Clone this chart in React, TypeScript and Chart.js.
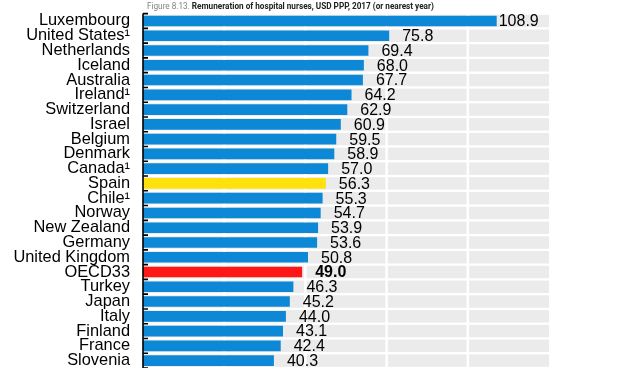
import React, { useEffect, useRef } from "react";
import { Chart, registerables } from "chart.js";

Chart.register(...registerables);

const categories = [
  "Luxembourg", "United States\u00B9", "Netherlands", "Iceland", "Australia",
  "Ireland\u00B9", "Switzerland", "Israel", "Belgium", "Denmark", "Canada\u00B9",
  "Spain", "Chile\u00B9", "Norway", "New Zealand", "Germany", "United Kingdom",
  "OECD33", "Turkey", "Japan", "Italy", "Finland", "France", "Slovenia",
];
const values = [
  108.9, 75.8, 69.4, 68.0, 67.7, 64.2, 62.9, 60.9, 59.5, 58.9, 57.0,
  56.3, 55.3, 54.7, 53.9, 53.6, 50.8, 49.0, 46.3, 45.2, 44.0, 43.1, 42.4, 40.3,
];
const gridTicks = [25, 50, 75, 100];
const titlePrefix = "Figure 8.13. ";
const titleMain = "Remuneration of hospital nurses, USD PPP, 2017 (or nearest year)";

const BLUE = "#0D88D6";
const YELLOW = "#FFE10C";
const RED = "#FF1616";
const barColors = categories.map((c) =>
  c === "Spain" ? YELLOW : c === "OECD33" ? RED : BLUE
);

const decorPlugin = {
  id: "decor",
  beforeDatasetsDraw(chart: any) {
    const { ctx, chartArea, scales } = chart;
    const y = scales.y;
    const x = scales.x;
    const n = categories.length;
    const rowH = (chartArea.bottom - chartArea.top) / n;
    ctx.save();
    ctx.fillStyle = "#EBEBEB";
    for (let i = 0; i < n; i++) {
      const cy = y.getPixelForValue(i);
      const h = rowH - 2.3;
      ctx.fillRect(chartArea.left, cy - h / 2, chartArea.right - chartArea.left, h);
    }
    ctx.fillStyle = "#FFFFFF";
    for (const t of gridTicks) {
      const px = x.getPixelForValue(t);
      ctx.fillRect(px - 1.25, chartArea.top, 2.5, chartArea.bottom - chartArea.top);
    }
    ctx.restore();
  },
  afterDatasetsDraw(chart: any) {
    const { ctx, chartArea, scales } = chart;
    const y = scales.y;
    const x = scales.x;
    const n = categories.length;
    const rowH = (chartArea.bottom - chartArea.top) / n;
    ctx.save();
    ctx.strokeStyle = "#000";
    ctx.lineWidth = 1.6;
    ctx.beginPath();
    ctx.moveTo(chartArea.left, chartArea.top);
    ctx.lineTo(chartArea.left, chartArea.bottom);
    for (let i = 0; i <= n; i++) {
      const yy = chartArea.top + i * rowH;
      ctx.moveTo(chartArea.left, yy);
      ctx.lineTo(chartArea.left + 5, yy);
    }
    ctx.stroke();
    ctx.fillStyle = "#000";
    ctx.textBaseline = "middle";
    ctx.textAlign = "left";
    for (let i = 0; i < n; i++) {
      const bold = categories[i] === "OECD33";
      ctx.font = (bold ? "bold " : "") + "16px 'Liberation Sans', Arial, sans-serif";
      const txt = values[i].toFixed(1);
      const w = ctx.measureText(txt).width;
      let tx = x.getPixelForValue(values[i]) + 13;
      if (tx + w > chartArea.right) tx = x.getPixelForValue(values[i]) + 2;
      ctx.fillText(txt, tx, y.getPixelForValue(i) + 1);
    }
    ctx.textBaseline = "alphabetic";
    ctx.font = "8.2px Roboto, sans-serif";
    ctx.fillStyle = "#808080";
    const tx0 = 147;
    const ty = 9;
    ctx.fillText(titlePrefix, tx0, ty);
    const pw = ctx.measureText(titlePrefix).width;
    ctx.font = "bold 8.2px Roboto, sans-serif";
    ctx.fillStyle = "#222";
    ctx.fillText(titleMain, tx0 + pw, ty);
    ctx.restore();
  },
};

export default function App() {
  const ref = useRef<HTMLCanvasElement | null>(null);
  useEffect(() => {
    if (!ref.current) return;
    const chart = new Chart(ref.current, {
      type: "bar",
      data: {
        labels: categories,
        datasets: [
          {
            data: values,
            backgroundColor: barColors,
            borderWidth: 0,
            barPercentage: 0.72,
            categoryPercentage: 1,
          },
        ],
      },
      options: {
        indexAxis: "y",
        animation: false,
        responsive: true,
        maintainAspectRatio: false,
        layout: { padding: { top: 13.6, right: 71, bottom: 0, left: 0 } },
        plugins: {
          legend: { display: false },
          tooltip: { enabled: false },
          title: { display: false },
        },
        scales: {
          x: { display: false, min: 0, max: 125 },
          y: {
            grid: { display: false },
            border: { display: false },
            ticks: {
              color: "#000",
              padding: 5,
              autoSkip: false,
              font: { family: "'Liberation Sans', Arial, sans-serif", size: 16.4 },
            },
            afterFit: (axis: any) => {
              axis.width = 143;
              axis.paddingTop = 0;
              axis.paddingBottom = 0;
            },
          },
        },
      },
      plugins: [decorPlugin],
    } as any);
    return () => chart.destroy();
  }, []);
  return (
    <div style={{ position: "fixed", left: 0, top: 0, width: 620, height: 368, background: "#fff" }}>
      <canvas ref={ref} style={{ display: "block" }} />
    </div>
  );
}
